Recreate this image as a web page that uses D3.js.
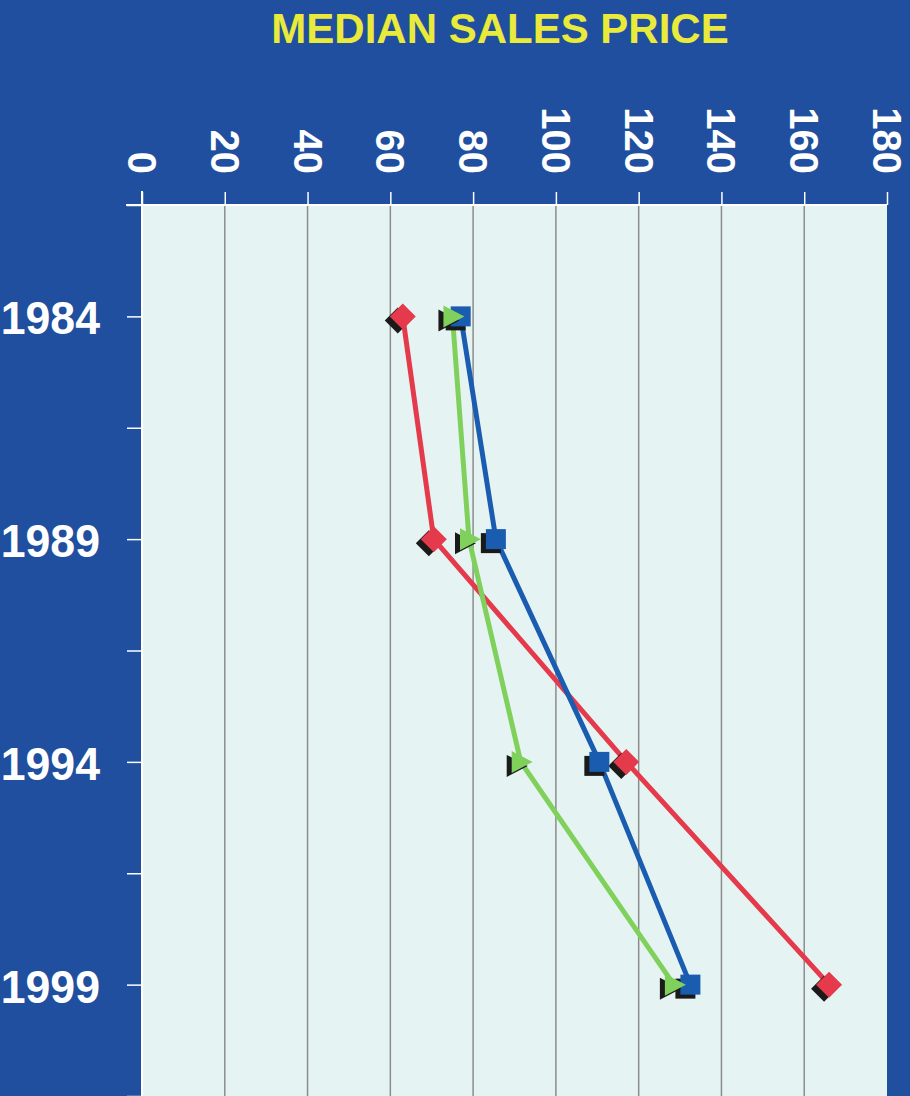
<!DOCTYPE html>
<html lang="en">
<head>
<meta charset="UTF-8">
<title>Median Sales Price</title>
<script src="https://d3js.org/d3.v7.min.js"></script>
<style>
  body { margin: 0; background: #1f4f9e; }
  svg { display: block; }
  .title { font-family: "Liberation Sans", Arial, sans-serif; font-weight: bold; font-size: 42px; fill: #e9ea3a; }
  .lbl { font-family: "Liberation Sans", Arial, sans-serif; font-weight: bold; fill: #ffffff; }
</style>
</head>
<body>
<svg id="chart" width="910" height="1096"></svg>
<script>
// data (price in $1000s)
const years = [1984, 1989, 1994, 1999];
const redValues = [63, 70.5, 117, 166];
const blueValues = [77, 85.5, 110.5, 132.5];
const greenValues = [75, 79, 91.5, 128.5];
const priceTicks = [0, 20, 40, 60, 80, 100, 120, 140, 160, 180];
const yearTicks = d3.range(1981.5, 2001.6, 2.5);

const W = 910, H = 1096;
const plotLeft = 142, plotRight = 887, plotTop = 205, plotBottom = 1096;

const svg = d3.select("#chart");

svg.append("rect").attr("width", W).attr("height", H).attr("fill", "#1f4f9e");

const x = d3.scaleLinear().domain([0, 180]).range([plotLeft, plotRight]);
const y = d3.scaleLinear().domain([1981.5, 2001.5]).range([plotTop, plotBottom]);

// plot area
svg.append("rect")
  .attr("x", plotLeft).attr("y", plotTop)
  .attr("width", plotRight - plotLeft).attr("height", plotBottom - plotTop)
  .attr("fill", "#e5f4f2");

// vertical grid
svg.append("g").selectAll("line")
  .data(priceTicks.filter(d => d > 0 && d < 180))
  .join("line")
  .attr("x1", d => x(d)).attr("x2", d => x(d))
  .attr("y1", plotTop).attr("y2", plotBottom)
  .attr("stroke", "#8c8c8c").attr("stroke-width", 1.5);

// top axis
const xAxis = d3.axisTop(x).tickValues(priceTicks).tickSize(13).tickFormat("");
const gx = svg.append("g").attr("transform", `translate(0,${plotTop})`).call(xAxis);
gx.select(".domain").remove();
gx.selectAll("line").attr("stroke", "#ffffff").attr("stroke-width", 1.5);
svg.append("line").attr("x1", plotLeft - 16).attr("x2", plotRight).attr("y1", plotTop).attr("y2", plotTop)
  .attr("stroke", "#ffffff").attr("stroke-width", 2);

svg.append("g").selectAll("text")
  .data(priceTicks)
  .join("text")
  .attr("class", "lbl")
  .attr("font-size", 40)
  .attr("text-anchor", "end")
  .attr("dominant-baseline", "central")
  .attr("transform", d => `translate(${x(d)},174) rotate(90)`)
  .text(d => d);

// left axis
const yAxis = d3.axisLeft(y).tickValues(yearTicks).tickSize(15).tickFormat("");
const gy = svg.append("g").attr("transform", `translate(${plotLeft},0)`).call(yAxis);
gy.select(".domain").remove();
gy.selectAll("line").attr("stroke", "#ffffff").attr("stroke-width", 1.5);
svg.append("line").attr("x1", plotLeft).attr("x2", plotLeft).attr("y1", plotTop - 14).attr("y2", plotBottom)
  .attr("stroke", "#ffffff").attr("stroke-width", 2);

svg.append("g").selectAll("text")
  .data(years)
  .join("text")
  .attr("class", "lbl")
  .attr("font-size", 47)
  .attr("text-anchor", "end")
  .attr("dominant-baseline", "central")
  .attr("transform", d => `translate(100,${y(d) + 2}) scale(0.95,1)`)
  .text(d => d);

// title
svg.append("text").attr("class", "title")
  .attr("x", 500).attr("y", 43)
  .attr("text-anchor", "middle")
  .text("MEDIAN SALES PRICE");

// series
const series = [
  { key: "red", values: redValues, color: "#e43a4c", shape: "diamond" },
  { key: "blue", values: blueValues, color: "#1a5db0", shape: "square" },
  { key: "green", values: greenValues, color: "#80d05c", shape: "triangle" }
];

const line = d3.line().x(d => x(d.v)).y(d => y(d.year));

series.forEach(s => {
  const pts = years.map((yr, i) => ({ year: yr, v: s.values[i] }));
  svg.append("path")
    .datum(pts)
    .attr("fill", "none")
    .attr("stroke", s.color)
    .attr("stroke-width", 5)
    .attr("d", line);
});

function shapePath(shape) {
  if (shape === "diamond") return "M0,-13L13,0L0,13L-13,0Z";
  if (shape === "square") return "M-10,-10H10V10H-10Z";
  return "M-9,-11L12,0L-9,11Z";
}

series.forEach(s => {
  const pts = years.map((yr, i) => ({ year: yr, v: s.values[i] }));
  const g = svg.append("g");
  g.selectAll("path.shadow")
    .data(pts)
    .join("path")
    .attr("class", "shadow")
    .attr("transform", d => `translate(${x(d.v) - 5},${y(d.year) + 4})`)
    .attr("d", shapePath(s.shape))
    .attr("fill", "#1a1a1a");
  g.selectAll("path.mark")
    .data(pts)
    .join("path")
    .attr("class", "mark")
    .attr("transform", d => `translate(${x(d.v)},${y(d.year)})`)
    .attr("d", shapePath(s.shape))
    .attr("fill", s.color);
});
</script>
</body>
</html>
